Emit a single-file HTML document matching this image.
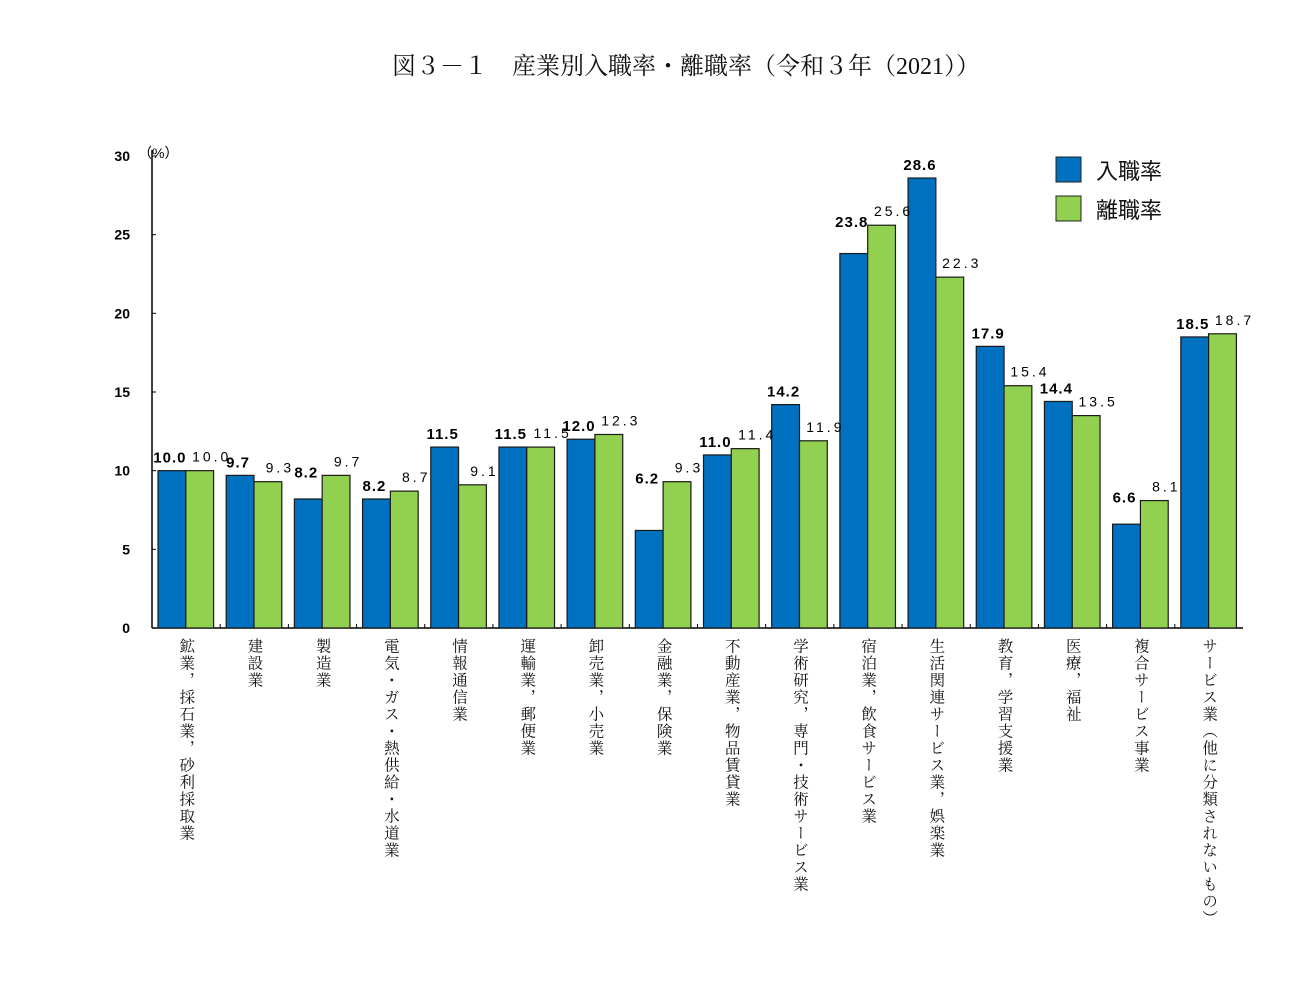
<!DOCTYPE html>
<html><head><meta charset="utf-8"><style>
html,body{margin:0;padding:0;background:#fff;}
body{width:1316px;height:992px;overflow:hidden;position:relative;}
svg{position:absolute;left:0;top:0;}
.t{font-family:"Liberation Serif","Noto Serif CJK SC",serif;}
.g{font-family:"Liberation Sans","Noto Sans CJK JP",sans-serif;}
</style></head><body>
<svg id="chart" width="1316" height="992">
<text class="t" x="686" y="74" text-anchor="middle" font-size="24" fill="#111">図３－１　産業別入職率・離職率（令和３年（2021））</text>
<g id="axes"></g><g id="bars"></g><g id="labels"></g>
<g>
<rect x="1056" y="157" width="25" height="25" fill="#0070c0" stroke="#222"/>
<text class="g" x="1096" y="179" font-size="22" fill="#111">入職率</text>
<rect x="1056" y="196" width="25" height="25" fill="#92d050" stroke="#222"/>
<text class="g" x="1096" y="218" font-size="22" fill="#111">離職率</text>
</g>
</svg>
<script>
const categories=["鉱業，採石業，砂利採取業","建設業","製造業","電気・ガス・熱供給・水道業","情報通信業","運輸業，郵便業","卸売業，小売業","金融業，保険業","不動産業，物品賃貸業","学術研究，専門・技術サービス業","宿泊業，飲食サービス業","生活関連サービス業，娯楽業","教育，学習支援業","医療，福祉","複合サービス事業","サービス業（他に分類されないもの）"];
const hireRate=[10.0,9.7,8.2,8.2,11.5,11.5,12.0,6.2,11.0,14.2,23.8,28.6,17.9,14.4,6.6,18.5];
const sepRate=[10.0,9.3,9.7,8.7,9.1,11.5,12.3,9.3,11.4,11.9,25.6,22.3,15.4,13.5,8.1,18.7];
const yTicks=[0,5,10,15,20,25,30];
const NS="http://www.w3.org/2000/svg";
const x0=152,x1=1243,y0=628,yTop=156,yMax=30;
const gw=(x1-x0)/categories.length,bw=27.8;
const y=v=>y0-(v/yMax)*(y0-yTop);
const gx=i=>x0+i*gw;
function mk(tag,parent){const e=document.createElementNS(NS,tag);document.getElementById(parent).appendChild(e);return e;}
// axes
let ax=mk('line','axes');ax.setAttribute('x1',x0);ax.setAttribute('x2',x0);ax.setAttribute('y1',yTop-6);ax.setAttribute('y2',y0);ax.setAttribute('stroke','#000');ax.setAttribute('stroke-width','1.5');


let bx=mk('line','axes');bx.setAttribute('x1',x0);bx.setAttribute('x2',x1);bx.setAttribute('y1',y0);bx.setAttribute('y2',y0);bx.setAttribute('stroke','#000');bx.setAttribute('stroke-width','1.5');


yTicks.forEach(v=>{
 const l=mk('line','axes');l.setAttribute('x1',x0);l.setAttribute('x2',x0+4);l.setAttribute('y1',y(v));l.setAttribute('y2',y(v));l.setAttribute('stroke','#000');
 
 
 const t=mk('text','axes');t.setAttribute('x',x0-22);t.setAttribute('y',y(v)+5);t.setAttribute('text-anchor','end');t.setAttribute('font-size','14');t.setAttribute('font-weight','bold');t.setAttribute('class','g');t.textContent=v;
 
 
});
const u=mk('text','axes');u.setAttribute('x',x0-14);u.setAttribute('y',yTop+2);u.setAttribute('font-size','14');u.setAttribute('class','g');u.textContent='（%）';


for(let i=1;i<categories.length;i++){const l=mk('line','axes');l.setAttribute('x1',gx(i));l.setAttribute('x2',gx(i));l.setAttribute('y1',y0-4);l.setAttribute('y2',y0);l.setAttribute('stroke','#000');
 
 }
categories.forEach((c,i)=>{
 const bl=gx(i)+6,gl=bl+bw;
 const r1=mk('rect','bars');r1.setAttribute('x',bl);r1.setAttribute('y',y(hireRate[i]));r1.setAttribute('width',bw);r1.setAttribute('height',y0-y(hireRate[i]));r1.setAttribute('fill','#0070c0');r1.setAttribute('stroke','#1a1a1a');r1.setAttribute('stroke-width','1.2');
 
 
 const r2=mk('rect','bars');r2.setAttribute('x',gl);r2.setAttribute('y',y(sepRate[i]));r2.setAttribute('width',bw);r2.setAttribute('height',y0-y(sepRate[i]));r2.setAttribute('fill','#92d050');r2.setAttribute('stroke','#1a1a1a');r2.setAttribute('stroke-width','1.2');
 
 
 const t1=mk('text','labels');t1.setAttribute('x',bl+bw/2-2);t1.setAttribute('y',Math.min(y(hireRate[i]),y(sepRate[i])+10)-8);t1.setAttribute('text-anchor','middle');t1.setAttribute('font-size','15');t1.setAttribute('font-weight','bold');t1.setAttribute('class','g');t1.setAttribute('letter-spacing','1');t1.textContent=hireRate[i].toFixed(1);
 
 
 const t2=mk('text','labels');t2.setAttribute('x',gl+bw/2+12);t2.setAttribute('y',y(sepRate[i])-9);t2.setAttribute('text-anchor','middle');t2.setAttribute('font-size','14');t2.setAttribute('class','g');t2.setAttribute('letter-spacing','3');t2.textContent=sepRate[i].toFixed(1);
 
 
 const ct=mk('text','labels');ct.setAttribute('x',bl+bw);ct.setAttribute('y',638);ct.setAttribute('font-size','15.5');ct.setAttribute('class','t');ct.setAttribute('writing-mode','tb');ct.setAttribute('style','writing-mode:vertical-rl;letter-spacing:1.5px');ct.setAttribute('fill','#111');ct.textContent=c;
 
 
});
</script>
</body></html>
